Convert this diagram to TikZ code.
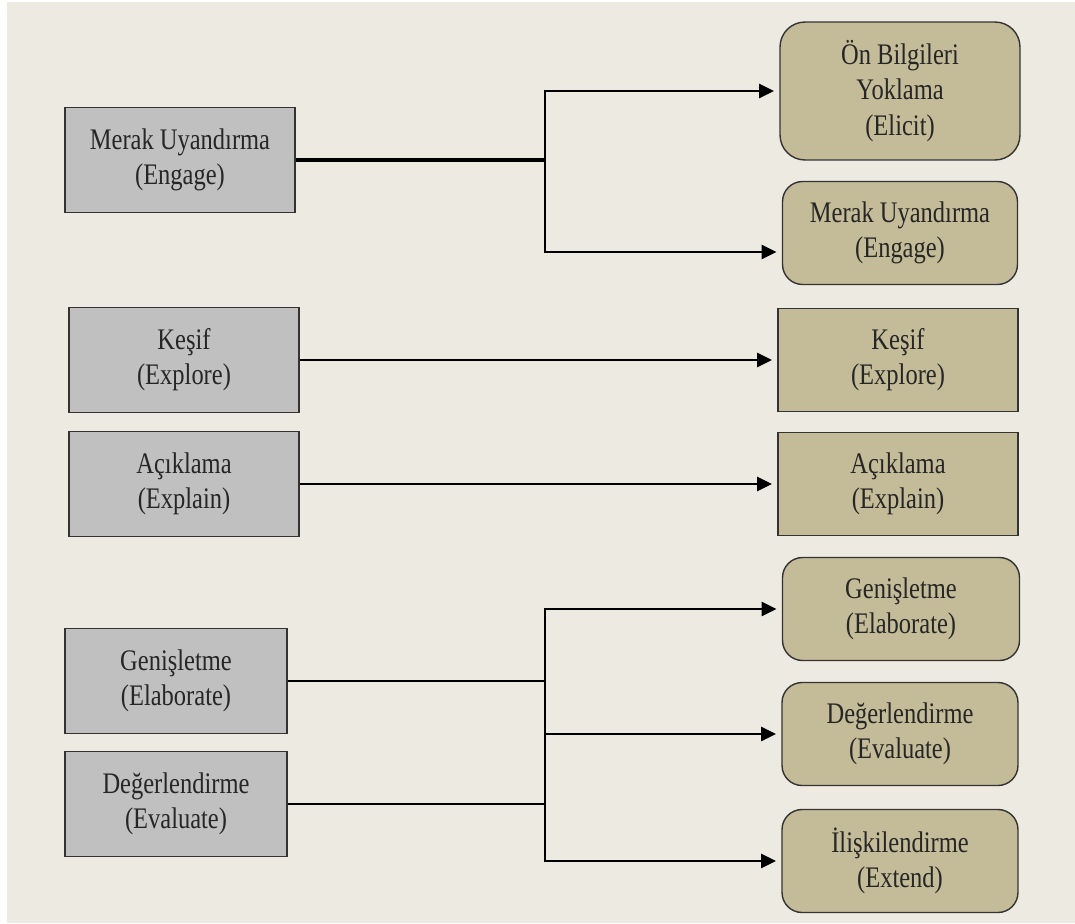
\documentclass[tikz,border=0pt]{standalone}
\usepackage{fontspec}
\setmainfont[FakeStretch=0.82]{Liberation Serif}
\usetikzlibrary{arrows.meta,positioning}
\definecolor{bgcream}{HTML}{EDEBE1}
\definecolor{phasegray}{HTML}{C0C0C0}
\definecolor{phasetan}{HTML}{C4BC98}

\begin{document}
\begin{tikzpicture}[
    x=0.02cm, y=-0.02cm,
    >={Triangle[length=0.3cm,width=0.28cm]},
    every node/.style={font=\fontsize{17}{20}\selectfont, align=center, text=black!85},
    oldphase/.style={draw=black!80, line width=0.8pt, fill=phasegray,
        minimum width=4.6cm, minimum height=2.1cm},
    newphase/.style={draw=black!80, line width=0.8pt, fill=phasetan,
        minimum width=4.8cm, minimum height=2.06cm},
    newround/.style={newphase, rounded corners=0.4cm},
    link/.style={line width=1.6pt},
    arrowlink/.style={link, ->, shorten >=3pt}
]
    \useasboundingbox (0,0) rectangle (1075,923);
    \fill[white] (0,0) rectangle (1075,923);
    \fill[bgcream] (7,2) rectangle (1075,923);

    % 5E phases
    \node[oldphase] (e5) at (180,160) {Merak Uyandırma\\(Engage)};
    \node[oldphase] (x5) at (184,360) {Keşif\\(Explore)};
    \node[oldphase] (p5) at (184,484) {Açıklama\\(Explain)};
    \node[oldphase, minimum width=4.44cm] (l5) at (176,681) {Genişletme\\(Elaborate)};
    \node[oldphase, minimum width=4.44cm] (v5) at (176,804) {Değerlendirme\\(Evaluate)};

    % 7E phases
    \node[newround, minimum height=2.76cm, rounded corners=0.5cm] (c1) at (900,91) {Ön Bilgileri\\Yoklama\\(Elicit)};
    \node[newround, minimum width=4.7cm] (c2) at (900,233) {Merak Uyandırma\\(Engage)};
    \node[newphase] (c3) at (898,360) {Keşif\\(Explore)};
    \node[newphase] (c4) at (898,484) {Açıklama\\(Explain)};
    \node[newround, minimum width=4.74cm] (c5) at (901,609) {Genişletme\\(Elaborate)};
    \node[newround, minimum width=4.72cm] (c6) at (900,734) {Değerlendirme\\(Evaluate)};
    \node[newround, minimum width=4.72cm] (c7) at (900,861) {İlişkilendirme\\(Extend)};

    \coordinate (j1) at (545,160);
    \coordinate (j2) at (545,734);
    \coordinate (c2in) at ([yshift=-0.38cm]c2.west);

    \draw[line width=2.6pt] (e5.east) -- (j1);
    \draw[arrowlink] (j1) |- (c1.west);
    \draw[arrowlink] (j1) |- (c2in);

    \draw[arrowlink] (x5.east) -- (c3.west);
    \draw[arrowlink] (p5.east) -- (c4.west);

    \draw[link] (l5.east) -- (l5.east -| j2);
    \draw[link] (v5.east) -- (v5.east -| j2);
    \draw[arrowlink] (j2) |- (c5.west);
    \draw[arrowlink] (j2) -- (c6.west);
    \draw[arrowlink] (j2) |- (c7.west);
\end{tikzpicture}
\end{document}
